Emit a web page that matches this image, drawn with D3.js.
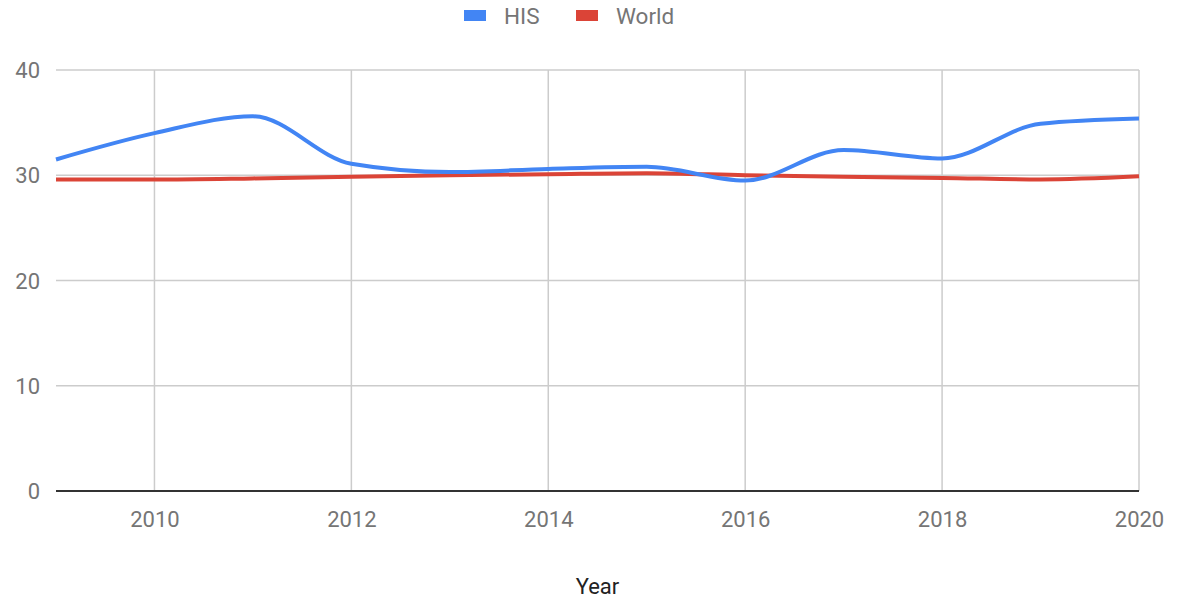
<!DOCTYPE html>
<html>
<head>
<meta charset="utf-8">
<script src="https://cdn.jsdelivr.net/npm/d3@7"></script>
<style>
  body { margin: 0; background: #fff; }
  text { font-family: Roboto, "Noto Sans", sans-serif; }
</style>
</head>
<body>
<div id="chart"></div>
<script>
// data
var years = [2009, 2010, 2011, 2012, 2013, 2014, 2015, 2016, 2017, 2018, 2019, 2020];
var his = [31.5, 34.0, 35.6, 31.1, 30.3, 30.6, 30.8, 29.5, 32.4, 31.6, 34.9, 35.4];
var world = [29.6, 29.6, 29.7, 29.85, 30.0, 30.1, 30.2, 30.0, 29.85, 29.75, 29.6, 29.9];
var xTicks = [2010, 2012, 2014, 2016, 2018, 2020];
var yTicks = [0, 10, 20, 30, 40];

var svgWidth = 1179;
var svgHeight = 598;

var margin = { top: 70, right: 40, bottom: 107, left: 56 };
var width = svgWidth - margin.left - margin.right;
var height = svgHeight - margin.top - margin.bottom;

var svg = d3.select("#chart")
  .append("svg")
  .attr("width", svgWidth)
  .attr("height", svgHeight);

var chartGroup = svg.append("g")
  .attr("transform", `translate(${margin.left}, ${margin.top})`);

var xScale = d3.scaleLinear().domain([2009, 2020]).range([0, width]);
var yScale = d3.scaleLinear().domain([0, 40]).range([height, 0]);

// vertical gridlines
chartGroup.append("g")
  .selectAll("line")
  .data(xTicks)
  .enter()
  .append("line")
  .attr("x1", d => xScale(d))
  .attr("x2", d => xScale(d))
  .attr("y1", 0)
  .attr("y2", height)
  .attr("stroke", "#cccccc")
  .attr("stroke-width", 1.5);

// horizontal gridlines
chartGroup.append("g")
  .selectAll("line")
  .data(yTicks.filter(d => d > 0))
  .enter()
  .append("line")
  .attr("x1", 0)
  .attr("x2", width)
  .attr("y1", d => yScale(d))
  .attr("y2", d => yScale(d))
  .attr("stroke", "#cccccc")
  .attr("stroke-width", 1.5);

// x axis
var bottomAxis = d3.axisBottom(xScale)
  .tickValues(xTicks)
  .tickFormat(d3.format("d"))
  .tickSize(0)
  .tickPadding(20);

var xAxis = chartGroup.append("g")
  .attr("transform", `translate(0, ${height})`)
  .call(bottomAxis);
xAxis.select(".domain").remove();
xAxis.selectAll("text")
  .attr("fill", "#757575")
  .style("font-size", "22px")
  .style("font-family", "Roboto");

// y axis
var leftAxis = d3.axisLeft(yScale)
  .tickValues(yTicks)
  .tickSize(0)
  .tickPadding(16);

var yAxis = chartGroup.append("g").call(leftAxis);
yAxis.select(".domain").remove();
yAxis.selectAll("text")
  .attr("fill", "#757575")
  .attr("dy", "0.35em")
  .style("font-size", "22px")
  .style("font-family", "Roboto");

// baseline
chartGroup.append("line")
  .attr("x1", 0)
  .attr("x2", width)
  .attr("y1", yScale(0))
  .attr("y2", yScale(0))
  .attr("stroke", "#333333")
  .attr("stroke-width", 2);

// lines
var line = d3.line()
  .x((d, i) => xScale(years[i]))
  .y(d => yScale(d))
  .curve(d3.curveMonotoneX);

chartGroup.append("path")
  .datum(world)
  .attr("fill", "none")
  .attr("stroke", "#db4437")
  .attr("stroke-width", 4)
  .attr("d", line);

chartGroup.append("path")
  .datum(his)
  .attr("fill", "none")
  .attr("stroke", "#4285f4")
  .attr("stroke-width", 4)
  .attr("d", line);

// legend
var legend = svg.append("g");
var items = [
  { name: "HIS", color: "#4285f4", x: 464 },
  { name: "World", color: "#db4437", x: 576 }
];
items.forEach(function(it) {
  legend.append("rect")
    .attr("x", it.x)
    .attr("y", 10)
    .attr("width", 22)
    .attr("height", 11)
    .attr("fill", it.color);
  legend.append("text")
    .attr("x", it.x + 40)
    .attr("y", 24)
    .attr("fill", "#757575")
    .style("font-size", "22.5px")
    .text(it.name);
});

// axis title
svg.append("text")
  .attr("x", margin.left + width / 2)
  .attr("y", 594)
  .attr("text-anchor", "middle")
  .attr("fill", "#222222")
  .style("font-size", "22px")
  .text("Year");
</script>
</body>
</html>
